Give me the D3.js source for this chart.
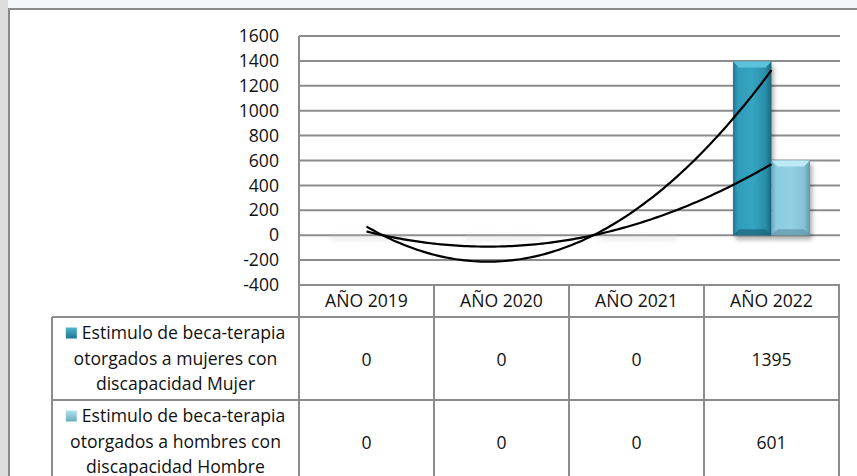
<!DOCTYPE html>
<html>
<head>
<meta charset="utf-8">
<script src="https://cdn.jsdelivr.net/npm/d3@7"></script>
<style>
  html, body { margin: 0; padding: 0; background: #fff; }
  svg { display: block; font-family: "Open Sans", sans-serif; }
</style>
</head>
<body>
<svg id="chart" width="857" height="476"></svg>
<script>
// ---- Data ----
const categories = ["AÑO 2019", "AÑO 2020", "AÑO 2021", "AÑO 2022"];
const seriesNames = [
  ["Estimulo de beca-terapia", "otorgados a mujeres con", "discapacidad Mujer"],
  ["Estimulo de beca-terapia", "otorgados a hombres con", "discapacidad Hombre"]
];
const mujeres = [0, 0, 0, 1395];
const hombres = [0, 0, 0, 601];
const yTicks = [-400, -200, 0, 200, 400, 600, 800, 1000, 1200, 1400, 1600];

const seriesValues = [mujeres, hombres];
const seriesKeys = ["s0", "s1"];

// ---- Layout ----
const svg = d3.select("#chart");
const W = 857, H = 476;
const plotLeft = 299, plotRight = 839, plotTop = 36, plotBottom = 285;
const headerH = 32, rowH = 83, legendLeft = 52;
const fontSize = 17.6;

const x = d3.scaleBand().domain(categories).range([plotLeft, plotRight]).paddingInner(0).paddingOuter(0);
const bw = x.bandwidth();
const x1 = d3.scaleBand().domain(seriesKeys).range([bw * 0.215, bw * 0.785]).padding(0);
const y = d3.scaleLinear().domain([-400, 1600]).range([plotBottom, plotTop]);

// ---- Defs ----
const defs = svg.append("defs");
const g0 = defs.append("linearGradient").attr("id", "gBar0").attr("x1", 0).attr("x2", 1).attr("y1", 0).attr("y2", 0);
[["0%", "#1f7690"], ["12%", "#2f9bb8"], ["50%", "#35a5c2"], ["85%", "#2a8ea9"], ["100%", "#1b6479"]]
  .forEach(s => g0.append("stop").attr("offset", s[0]).attr("stop-color", s[1]));
const g1 = defs.append("linearGradient").attr("id", "gBar1").attr("x1", 0).attr("x2", 1).attr("y1", 0).attr("y2", 0);
[["0%", "#67a9bf"], ["12%", "#8ccbe0"], ["50%", "#93d0e4"], ["85%", "#86c2d6"], ["100%", "#5e98ab"]]
  .forEach(s => g1.append("stop").attr("offset", s[0]).attr("stop-color", s[1]));
const topCols = ["#5cc3dc", "#bdeaf6"];
const botCols = ["#1a6477", "#5f96a8"];

const shadow = defs.append("filter").attr("id", "shadow").attr("x", "-30%").attr("y", "-30%").attr("width", "160%").attr("height", "160%");
shadow.append("feGaussianBlur").attr("in", "SourceAlpha").attr("stdDeviation", 2.5).attr("result", "b");
shadow.append("feOffset").attr("in", "b").attr("dx", 2).attr("dy", 4).attr("result", "o");
shadow.append("feComponentTransfer").attr("in", "o").attr("result", "o2")
  .append("feFuncA").attr("type", "linear").attr("slope", 0.35);
const merge = shadow.append("feMerge");
merge.append("feMergeNode").attr("in", "o2");
merge.append("feMergeNode").attr("in", "SourceGraphic");

const blur = defs.append("filter").attr("id", "blur").attr("x", "-20%").attr("y", "-200%").attr("width", "140%").attr("height", "500%");
blur.append("feGaussianBlur").attr("stdDeviation", 2.5);

const swg = defs.append("linearGradient").attr("id", "sw0").attr("x1", 0).attr("x2", 0).attr("y1", 0).attr("y2", 1);
swg.append("stop").attr("offset", "0%").attr("stop-color", "#4fb6d0");
swg.append("stop").attr("offset", "100%").attr("stop-color", "#1f7690");
const swg1 = defs.append("linearGradient").attr("id", "sw1").attr("x1", 0).attr("x2", 0).attr("y1", 0).attr("y2", 1);
swg1.append("stop").attr("offset", "0%").attr("stop-color", "#b3e3f1");
swg1.append("stop").attr("offset", "100%").attr("stop-color", "#6aa8bd");

// ---- Frame ----
svg.append("rect").attr("x", 0).attr("y", 0).attr("width", W).attr("height", H).attr("fill", "#f2f6fa");
svg.append("rect").attr("x", 0).attr("y", 0).attr("width", 8).attr("height", H).attr("fill", "#dcdcdc");
svg.append("rect").attr("x", 9).attr("y", 9).attr("width", W + 20).attr("height", H + 20)
  .attr("fill", "#fff").attr("stroke", "#8a8a8a").attr("stroke-width", 2);

// ---- Gridlines ----
svg.append("g").selectAll("line").data(yTicks).join("line")
  .attr("x1", plotLeft).attr("x2", plotRight + 1)
  .attr("y1", d => y(d)).attr("y2", d => y(d))
  .attr("stroke", "#8c8c8c").attr("stroke-width", 2);

// ---- Y labels ----
svg.append("g").selectAll("text").data(yTicks).join("text")
  .attr("x", 279).attr("y", d => y(d)).attr("dy", "0.35em")
  .attr("text-anchor", "end").attr("font-size", fontSize).attr("fill", "#111")
  .text(d => d < 0 ? "-" + Math.abs(d) : d);

// ---- Bars ----
const barG = svg.append("g");
categories.forEach((c, ci) => {
  seriesKeys.forEach((k, si) => {
    const v = seriesValues[si][ci];
    const bx = x(c) + x1(k), bwid = x1.bandwidth();
    const top = y(Math.max(0, v)), bot = y(Math.min(0, v));
    if (v === 0) {
      barG.append("rect").attr("x", bx + 2).attr("y", bot + 1).attr("width", bwid).attr("height", 3)
        .attr("fill", "#c8c8c8").attr("opacity", 0.6).attr("filter", "url(#blur)");
      return;
    }
    const g = barG.append("g").attr("filter", "url(#shadow)");
    g.append("rect").attr("x", bx).attr("y", top).attr("width", bwid).attr("height", bot - top)
      .attr("fill", `url(#gBar${si})`);
    const bev = 6;
    g.append("polygon")
      .attr("points", [[bx, top], [bx + bwid, top], [bx + bwid - bev, top + bev], [bx + bev, top + bev]].map(p => p.join(",")).join(" "))
      .attr("fill", topCols[si]);
    g.append("polygon")
      .attr("points", [[bx, bot], [bx + bwid, bot], [bx + bwid - bev, bot - bev], [bx + bev, bot - bev]].map(p => p.join(",")).join(" "))
      .attr("fill", botCols[si]).attr("opacity", 0.7);
  });
});

// ---- Polynomial (order 2) trendlines ----
function polyFit2(ys) {
  const xs = ys.map((_, i) => i + 1);
  const S = k => d3.sum(xs, v => Math.pow(v, k));
  const T = k => d3.sum(xs, (v, i) => Math.pow(v, k) * ys[i]);
  const A = [[S(0), S(1), S(2)], [S(1), S(2), S(3)], [S(2), S(3), S(4)]];
  const b = [T(0), T(1), T(2)];
  const n = 3, M = A.map((r, i) => r.concat([b[i]]));
  for (let i = 0; i < n; i++) {
    for (let j = i + 1; j < n; j++) {
      const f = M[j][i] / M[i][i];
      for (let k = i; k <= n; k++) M[j][k] -= f * M[i][k];
    }
  }
  const c = [0, 0, 0];
  for (let i = n - 1; i >= 0; i--) {
    let s = M[i][n];
    for (let k = i + 1; k < n; k++) s -= M[i][k] * c[k];
    c[i] = s / M[i][i];
  }
  return t => c[0] + c[1] * t + c[2] * t * t;
}
const xPos = t => x(categories[0]) + bw / 2 + (t - 1) * bw;
const line = d3.line().x(d => xPos(d[0])).y(d => y(d[1])).curve(d3.curveBasis);
seriesValues.forEach(vals => {
  const f = polyFit2(vals);
  const pts = d3.range(0, 121).map(i => { const t = 1 + i * (vals.length - 1) / 120; return [t, f(t)]; });
  svg.append("path").attr("d", line(pts)).attr("fill", "none").attr("stroke", "#000").attr("stroke-width", 2.2);
});

// ---- Axis line ----
svg.append("line").attr("x1", plotLeft).attr("x2", plotLeft).attr("y1", plotTop).attr("y2", H + 5)
  .attr("stroke", "#8c8c8c").attr("stroke-width", 2);

// ---- Data table ----
const tG = svg.append("g");
const tableTop = plotBottom;
const r1 = tableTop + headerH, r2 = r1 + rowH;
const lc = "#8c8c8c";
tG.append("line").attr("x1", plotLeft).attr("x2", plotRight + 1).attr("y1", tableTop).attr("y2", tableTop).attr("stroke", lc).attr("stroke-width", 2);
[r1, r2].forEach(yy => tG.append("line").attr("x1", legendLeft).attr("x2", plotRight + 1).attr("y1", yy).attr("y2", yy).attr("stroke", lc).attr("stroke-width", 2));
categories.forEach(c => {
  tG.append("line").attr("x1", x(c) + bw).attr("x2", x(c) + bw).attr("y1", tableTop).attr("y2", H + 5).attr("stroke", lc).attr("stroke-width", 2);
});
tG.append("line").attr("x1", legendLeft).attr("x2", legendLeft).attr("y1", r1).attr("y2", H + 5).attr("stroke", lc).attr("stroke-width", 2);

tG.selectAll("text.hdr").data(categories).join("text").attr("class", "hdr")
  .attr("x", d => x(d) + bw / 2).attr("y", tableTop + headerH / 2).attr("dy", "0.35em")
  .attr("text-anchor", "middle").attr("font-size", fontSize).attr("fill", "#111").text(d => d);

const lineGap = 25.5;
seriesValues.forEach((vals, si) => {
  const rowTop = r1 + si * rowH, rowMid = rowTop + rowH / 2;
  const cx = (legendLeft + plotLeft) / 2;
  seriesNames[si].forEach((ln, li) => {
    const ty = rowMid + (li - 1) * lineGap;
    if (li === 0) {
      const t = tG.append("text").attr("y", ty).attr("dy", "0.35em").attr("font-size", fontSize).attr("fill", "#111").text(ln);
      const tw = t.node().getComputedTextLength();
      const sw = 11, gap = 5, total = sw + gap + tw;
      const sx = cx - total / 2;
      t.attr("x", sx + sw + gap);
      tG.append("rect").attr("x", sx).attr("y", ty - sw / 2).attr("width", sw).attr("height", sw)
        .attr("fill", `url(#sw${si})`);
    } else {
      tG.append("text").attr("x", cx).attr("y", ty).attr("dy", "0.35em").attr("text-anchor", "middle")
        .attr("font-size", fontSize).attr("fill", "#111").text(ln);
    }
  });
  categories.forEach((c, ci) => {
    tG.append("text").attr("x", x(c) + bw / 2).attr("y", rowMid + 1).attr("dy", "0.35em").attr("text-anchor", "middle")
      .attr("font-size", fontSize).attr("fill", "#111").text(vals[ci]);
  });
});
</script>
</body>
</html>
